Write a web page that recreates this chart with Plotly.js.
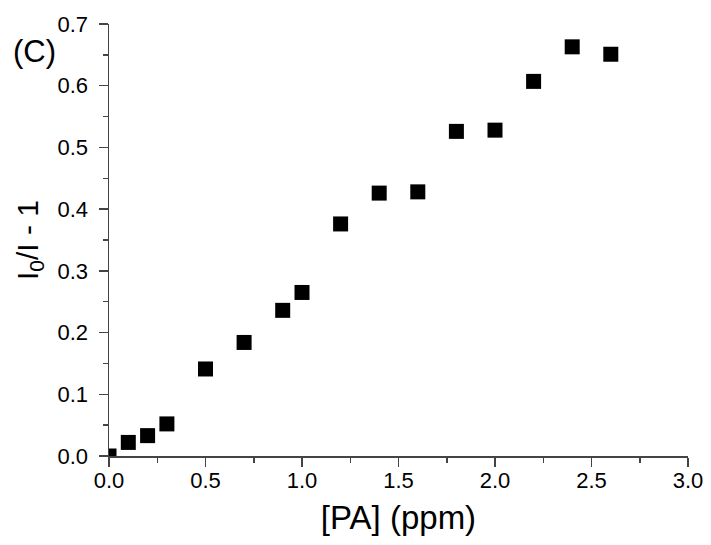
<!DOCTYPE html>
<html>
<head>
<meta charset="utf-8">
<script src="https://cdn.plot.ly/plotly-3.0.1.min.js"></script>
<style>html,body{margin:0;padding:0;background:#fff;}#chart{width:711px;height:545px;}</style>
</head>
<body>
<div id="chart"></div>
<script>
const paConc = [0.0, 0.1, 0.2, 0.3, 0.5, 0.7, 0.9, 1.0, 1.2, 1.4, 1.6, 1.8, 2.0, 2.2, 2.4, 2.6];
const ratio  = [0.0, 0.022, 0.033, 0.052, 0.141, 0.184, 0.236, 0.265, 0.376, 0.426, 0.428, 0.526, 0.528, 0.607, 0.663, 0.651];
const xRange = [0, 3.0];
const yRange = [0, 0.7];

const FONT = 'Liberation Sans, Arial, sans-serif';
const AXC = '#444444';

const trace = {
  x: paConc, y: ratio, type: 'scatter', mode: 'markers',
  marker: {symbol: 'square', size: 15, color: '#000000', line: {width: 0}},
  cliponaxis: true, showlegend: false
};

const layout = {
  width: 711, height: 545,
  margin: {l: 109, r: 23, t: 24, b: 89},
  paper_bgcolor: '#ffffff', plot_bgcolor: '#ffffff',
  font: {family: FONT, color: '#000000', size: 22},
  xaxis: {
    range: xRange, tickmode: 'linear', tick0: 0, dtick: 0.5, tickformat: '.1f',
    showgrid: false, zeroline: false, showline: true, linecolor: AXC, linewidth: 1.5,
    ticks: 'outside', ticklen: 9, tickwidth: 1.5, tickcolor: AXC, ticklabelstandoff: -5,
    minor: {tick0: 0, dtick: 0.25, ticks: 'outside', ticklen: 5, tickwidth: 1.5, tickcolor: AXC, showgrid: false},
    tickfont: {family: FONT, size: 22, color: '#000'},
    title: {text: '[PA] (ppm)', font: {family: FONT, size: 33, color: '#000'}, standoff: 14},
    automargin: false
  },
  yaxis: {
    range: yRange, tickmode: 'linear', tick0: 0, dtick: 0.1, tickformat: '.1f',
    showgrid: false, zeroline: false, showline: true, linecolor: AXC, linewidth: 1.5,
    ticks: 'outside', ticklen: 9, tickwidth: 1.5, tickcolor: AXC, ticklabelstandoff: 6,
    minor: {tick0: 0, dtick: 0.05, ticks: 'outside', ticklen: 5, tickwidth: 1.5, tickcolor: AXC, showgrid: false},
    tickfont: {family: FONT, size: 22, color: '#000'},
    title: {text: 'I<sub>0</sub>/I - 1', font: {family: FONT, size: 30, color: '#000'}, standoff: 10},
    automargin: false
  },
  annotations: [{
    text: '(C)', xref: 'paper', yref: 'paper', x: -0.128, y: 0.9375,
    xanchor: 'center', yanchor: 'middle', showarrow: false,
    font: {family: FONT, size: 31, color: '#000'}
  }]
};

Plotly.newPlot('chart', [trace], layout, {staticPlot: true, displayModeBar: false});
</script>
</body>
</html>
